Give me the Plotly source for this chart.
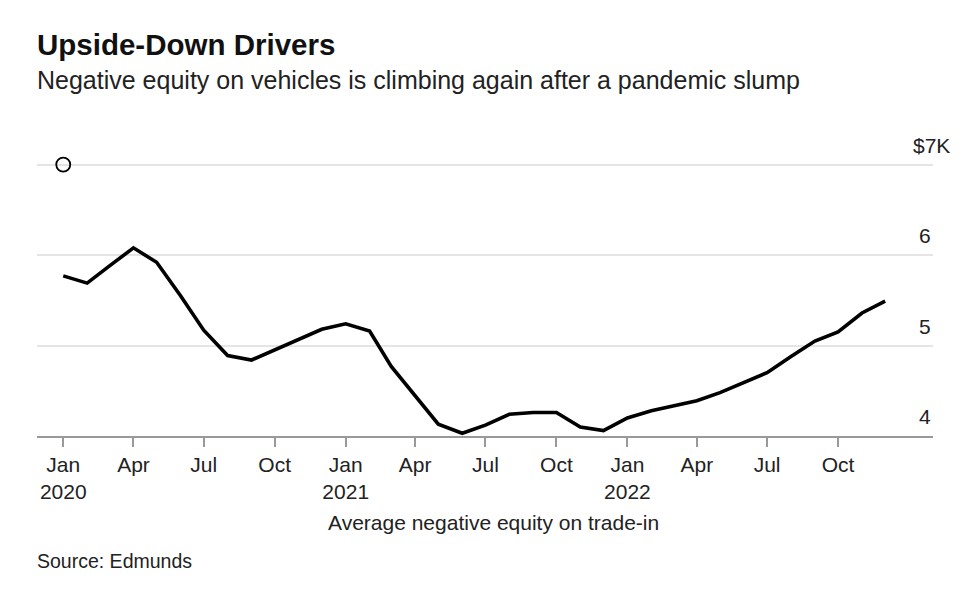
import plotly.graph_objects as go

# Average negative equity on trade-in, $ thousands, monthly
months = [
    "2020-01-01", "2020-02-01", "2020-03-01", "2020-04-01", "2020-05-01", "2020-06-01",
    "2020-07-01", "2020-08-01", "2020-09-01", "2020-10-01", "2020-11-01", "2020-12-01",
    "2021-01-01", "2021-02-01", "2021-03-01", "2021-04-01", "2021-05-01", "2021-06-01",
    "2021-07-01", "2021-08-01", "2021-09-01", "2021-10-01", "2021-11-01", "2021-12-01",
    "2022-01-01", "2022-02-01", "2022-03-01", "2022-04-01", "2022-05-01", "2022-06-01",
    "2022-07-01", "2022-08-01", "2022-09-01", "2022-10-01", "2022-11-01", "2022-12-01",
]
neg_equity = [
    5.77, 5.69, 5.88, 6.08, 5.92, 5.55,
    5.17, 4.89, 4.84, 4.95, 5.06, 5.18,
    5.24, 5.16, 4.77, 4.45, 4.13, 4.03,
    4.12, 4.24, 4.26, 4.26, 4.10, 4.06,
    4.20, 4.28, 4.33, 4.39, 4.48, 4.59,
    4.70, 4.88, 5.05, 5.15, 5.36, 5.49,
]

tick_dates = ["2020-01-01", "2020-04-01", "2020-07-01", "2020-10-01",
              "2021-01-01", "2021-04-01", "2021-07-01", "2021-10-01",
              "2022-01-01", "2022-04-01", "2022-07-01", "2022-10-01"]
tick_text = ["Jan<br>2020", "Apr", "Jul", "Oct",
             "Jan<br>2021", "Apr", "Jul", "Oct",
             "Jan<br>2022", "Apr", "Jul", "Oct"]

y_ticks = [4, 5, 6, 7]
y_text = ["4", "5", "6", "$7K"]

FONT = "Liberation Sans, Arial, sans-serif"
TXT = "#222"

fig = go.Figure()

fig.add_trace(go.Scatter(x=months, y=neg_equity, mode="lines",
                         line=dict(color="black", width=3.6),
                         name="Average negative equity on trade-in",
                         showlegend=False))

# hollow marker sitting on the top gridline
fig.add_trace(go.Scatter(x=[months[0]], y=[7], mode="markers",
                         marker=dict(symbol="circle-open", size=14, color="black",
                                     line=dict(width=1.8)),
                         cliponaxis=False, showlegend=False, hoverinfo="skip"))

# right-hand value labels, sitting just above their gridlines
for val, txt in zip(y_ticks, y_text):
    fig.add_annotation(x=1, xref="paper", y=val, yref="y", text=txt,
                       showarrow=False, xanchor="right", yanchor="bottom",
                       xshift=19 if txt.startswith("$") else 0, yshift=6,
                       font=dict(family=FONT, size=21, color=TXT))

# paper y positions below are relative to a plot box 157..428 px tall;
# the y range is padded slightly above 7 so the top gridline is drawn
fig.add_annotation(x=0, xref="paper", y=1.425, yref="paper",
                   text="<b>Upside-Down Drivers</b>", showarrow=False,
                   xanchor="left", yanchor="middle", xshift=-2,
                   font=dict(family=FONT, size=29.5, color="#111"))
fig.add_annotation(x=0, xref="paper", y=1.294, yref="paper",
                   text="Negative equity on vehicles is climbing again after a pandemic slump",
                   showarrow=False, xanchor="left", yanchor="middle", xshift=-2,
                   font=dict(family=FONT, size=25, color=TXT))
fig.add_annotation(x=0.51, xref="paper", y=-0.316, yref="paper",
                   text="Average negative equity on trade-in", showarrow=False,
                   xanchor="center", yanchor="middle",
                   font=dict(family=FONT, size=21, color=TXT))
fig.add_annotation(x=0, xref="paper", y=-0.454, yref="paper",
                   text="Source: Edmunds", showarrow=False,
                   xanchor="left", yanchor="middle", xshift=-2,
                   font=dict(family=FONT, size=19.5, color=TXT))

# page body adds 8px margin, so the figure is sized to fit inside 980x592
fig.update_layout(
    width=964, height=576,
    margin=dict(l=29, r=39, t=153, b=148),
    plot_bgcolor="white", paper_bgcolor="white",
    font=dict(family=FONT, size=21, color=TXT),
    xaxis=dict(
        type="date",
        range=["2019-11-28", "2023-02-01"],
        tickvals=tick_dates, ticktext=tick_text,
        showgrid=False, zeroline=False,
        showline=True, linecolor="#999", linewidth=1.5,
        ticks="outside", ticklen=9, tickcolor="#999", tickwidth=1.5,
        tickfont=dict(family=FONT, size=21, color=TXT),
    ),
    yaxis=dict(
        range=[4, 7.04], side="right",
        tickvals=y_ticks, showticklabels=False,
        showgrid=True, gridcolor="#e5e5e5", gridwidth=1.5,
        zeroline=False,
    ),
)

fig.write_html("out.html")
